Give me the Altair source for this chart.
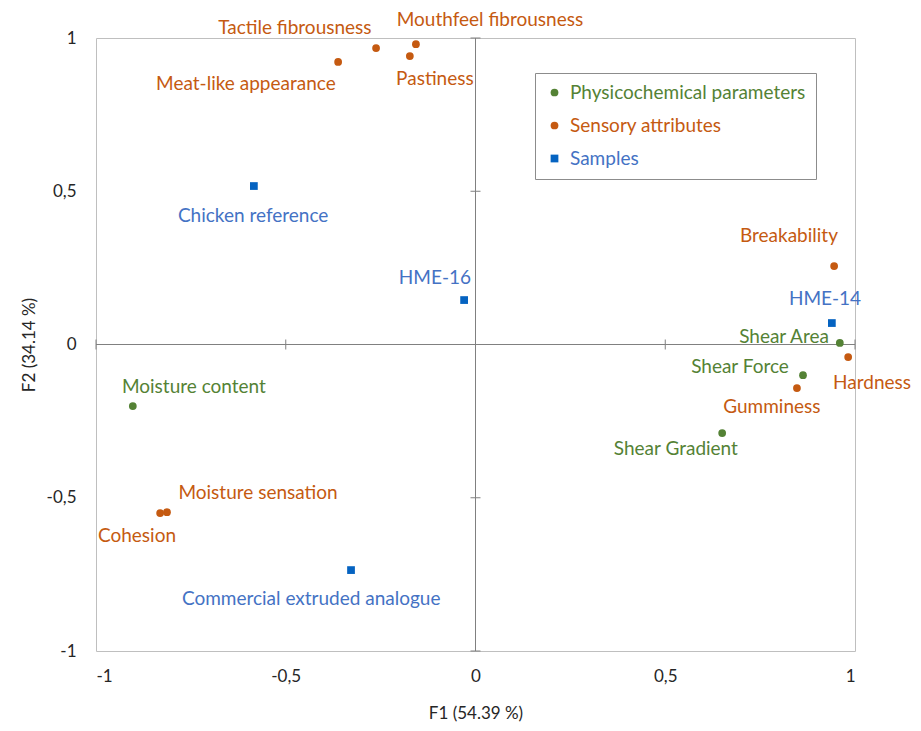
import altair as alt
import pandas as pd

# ---- data ----
names = [
    "Tactile fibrousness", "Mouthfeel fibrousness", "Pastiness", "Meat-like appearance",
    "Breakability", "Hardness", "Gumminess", "Moisture sensation", "Cohesion",
    "Shear Area", "Shear Force", "Shear Gradient", "Moisture content",
    "Chicken reference", "HME-16", "HME-14", "Commercial extruded analogue",
]
groups = [
    "Sensory attributes", "Sensory attributes", "Sensory attributes", "Sensory attributes",
    "Sensory attributes", "Sensory attributes", "Sensory attributes", "Sensory attributes",
    "Sensory attributes",
    "Physicochemical parameters", "Physicochemical parameters", "Physicochemical parameters",
    "Physicochemical parameters",
    "Samples", "Samples", "Samples", "Samples",
]
f1 = [-0.262, -0.157, -0.173, -0.362, 0.945, 0.982, 0.847, -0.813, -0.831,
      0.960, 0.863, 0.650, -0.903, -0.584, -0.030, 0.939, -0.328]
f2 = [0.967, 0.980, 0.941, 0.922, 0.256, -0.041, -0.142, -0.547, -0.550,
      0.005, -0.100, -0.289, -0.201, 0.517, 0.145, 0.070, -0.736]
# label anchor positions (in F1/F2 units)
label_f1 = [-0.476, 0.038, -0.107, -0.605, 0.826, 1.045, 0.781, -0.573, -0.892,
            0.813, 0.697, 0.528, -0.742, -0.586, -0.107, 0.921, -0.433]
label_f2 = [1.033, 1.059, 0.866, 0.850, 0.354, -0.126, -0.204, -0.485, -0.625,
            0.024, -0.073, -0.341, -0.139, 0.419, 0.217, 0.148, -0.830]

group_order = ["Physicochemical parameters", "Sensory attributes", "Samples"]
axis_ticks = [-1, -0.5, 0, 0.5, 1]
tick_marks = [-1, -0.5, 0.5, 1]

x_title = "F1 (54.39 %)"
y_title = "F2 (34.14 %)"

# ---- styles ----
FONT = "Lato"
marker_colors = ["#548235", "#C55A11", "#0563C1"]
text_colors = {"Physicochemical parameters": "#548235",
               "Sensory attributes": "#C55A11",
               "Samples": "#4472C4"}

df = pd.DataFrame({"name": names, "group": groups, "f1": f1, "f2": f2,
                   "lf1": label_f1, "lf2": label_f2})
df["tcolor"] = df["group"].map(text_colors)

xs = alt.Scale(domain=[-1, 1], nice=False, zero=False)
ys = alt.Scale(domain=[-1, 1], nice=False, zero=False)

label_expr = "replace(toString(datum.value), '.', ',')"

xaxis = alt.Axis(values=axis_ticks, labelExpr=label_expr, grid=False, ticks=False,
                 domain=False, labelFont=FONT, labelFontSize=17, labelColor="#262626",
                 labelPadding=17, titleFont=FONT, titleFontSize=17, titleFontWeight="normal",
                 titleColor="#262626", titlePadding=21)
yaxis = alt.Axis(values=axis_ticks, labelExpr=label_expr, grid=False, ticks=False,
                 domain=False, labelFont=FONT, labelFontSize=17, labelColor="#262626",
                 labelPadding=20, titleFont=FONT, titleFontSize=17, titleFontWeight="normal",
                 titleColor="#262626", titlePadding=8)

legend_label_color = ("datum.value == 'Samples' ? '#4472C4' : "
                      "(datum.value == 'Sensory attributes' ? '#C55A11' : '#548235')")

leg = alt.Legend(title=None, orient="none", legendX=439, legendY=35,
                 padding=10, strokeColor="#8c8c8c", fillColor="white",
                 labelFont=FONT, labelFontSize=19, rowPadding=13, labelOffset=6,
                 labelLimit=0, labelColor={"expr": legend_label_color},
                 symbolStrokeWidth=0)

points = alt.Chart(df).mark_point(filled=True, opacity=1).encode(
    x=alt.X("f1:Q", scale=xs, axis=xaxis, title=x_title),
    y=alt.Y("f2:Q", scale=ys, axis=yaxis, title=y_title),
    color=alt.Color("group:N", scale=alt.Scale(domain=group_order, range=marker_colors), legend=leg),
    shape=alt.Shape("group:N", scale=alt.Scale(domain=group_order, range=["circle", "circle", "square"]), legend=leg),
    size=alt.Size("group:N", scale=alt.Scale(domain=group_order, range=[60, 60, 145]), legend=leg),
)

labels = alt.Chart(df).mark_text(font=FONT, fontSize=19).encode(
    x=alt.X("lf1:Q", scale=xs),
    y=alt.Y("lf2:Q", scale=ys),
    text="name:N",
    color=alt.Color("tcolor:N", scale=None),
)

zero_df = pd.DataFrame({"z": [0]})
vline = alt.Chart(zero_df).mark_rule(color="#808080", strokeWidth=1).encode(x=alt.X("z:Q", scale=xs))
hline = alt.Chart(zero_df).mark_rule(color="#808080", strokeWidth=1).encode(y=alt.Y("z:Q", scale=ys))

tick_df = pd.DataFrame({"t": tick_marks})
xticks = alt.Chart(tick_df).mark_rule(color="#808080", yOffset=-5, y2Offset=5).encode(
    x=alt.X("t:Q", scale=xs), y=alt.datum(0, scale=ys), y2=alt.datum(0))
yticks = alt.Chart(tick_df).mark_rule(color="#808080", xOffset=-5, x2Offset=5).encode(
    y=alt.Y("t:Q", scale=ys), x=alt.datum(0, scale=xs), x2=alt.datum(0))

chart = alt.layer(vline, hline, xticks, yticks, points, labels).properties(
    width=759, height=613,
    autosize=alt.AutoSizeParams(type="none"),
    padding={"left": 88, "top": 30, "right": 58, "bottom": 72},
).configure_view(stroke="#bfbfbf", strokeWidth=1)

chart.save("out.html", embed_options={"renderer": "svg", "actions": False})
